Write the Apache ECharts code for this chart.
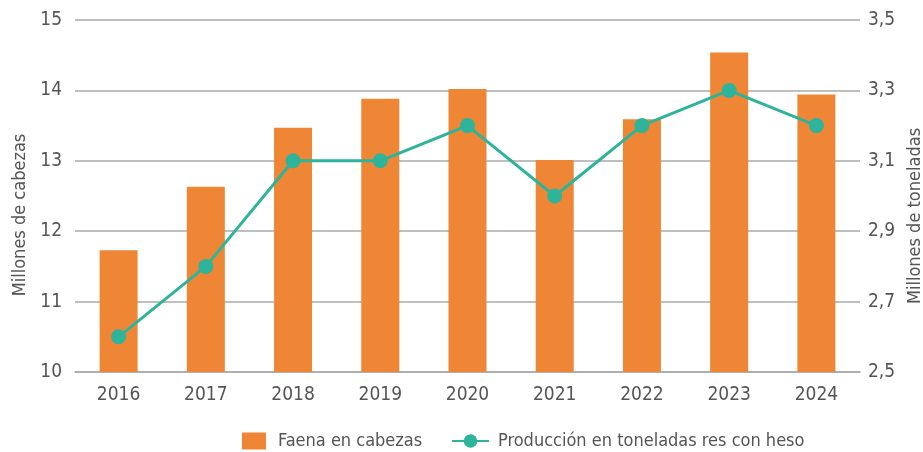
<!DOCTYPE html>
<html>
<head>
<meta charset="utf-8">
<script src="https://cdn.jsdelivr.net/npm/echarts@6/dist/echarts.min.js"></script>
<style>
  html, body { margin: 0; padding: 0; background: #fff; }
  #chart { width: 923px; height: 452px; }
</style>
</head>
<body>
<div id="chart"></div>
<script>
var years = ['2016', '2017', '2018', '2019', '2020', '2021', '2022', '2023', '2024'];
// millones de cabezas
var faena = [11.73, 12.63, 13.47, 13.88, 14.02, 13.01, 13.59, 14.54, 13.94];
// millones de toneladas res con hueso
var produccion = [2.6, 2.8, 3.1, 3.1, 3.2, 3.0, 3.2, 3.3, 3.2];

var FONT = '"DejaVu Sans Condensed", "Liberation Sans Narrow", "Roboto Condensed", sans-serif';
var TXT = '#555';

var chart = echarts.init(document.getElementById('chart'));

chart.setOption({
    animation: false,
    textStyle: { fontFamily: FONT },
    grid: { left: 75, right: 63, top: 20, bottom: 80, outerBoundsMode: 'none', containLabel: false },
    legend: [
        {
            data: [{ name: 'Faena en cabezas', icon: 'rect' }],
            left: 242, top: 432, padding: 0,
            itemWidth: 24, itemHeight: 17,
            textStyle: { fontFamily: FONT, fontSize: 18, color: TXT, padding: [0, 0, 0, 7] }
        },
        {
            data: ['Producción en toneladas res con heso'],
            left: 451, top: 432, padding: 0,
            itemWidth: 37, itemHeight: 17,
            textStyle: { fontFamily: FONT, fontSize: 18, color: TXT, padding: [0, 0, 0, 4] }
        }
    ],
    xAxis: {
        type: 'category',
        data: years,
        axisLine: { lineStyle: { color: '#aaa', width: 1.5 } },
        axisTick: { show: false },
        axisLabel: { color: TXT, fontSize: 19, margin: 14 }
    },
    yAxis: [
        {
            type: 'value',
            min: 10, max: 15, interval: 1,
            name: 'Millones de cabezas',
            nameLocation: 'middle',
            nameGap: 46,
            nameTextStyle: { color: TXT, fontSize: 18, padding: [0, 38, 0, 0] },
            axisLabel: { color: TXT, fontSize: 19, margin: 13 },
            splitLine: { lineStyle: { color: '#aaa', width: 1.5 } }
        },
        {
            type: 'value',
            min: 2.5, max: 3.5, interval: 0.2,
            name: 'Millones de toneladas',
            nameLocation: 'middle',
            nameGap: 45,
            nameTextStyle: { color: TXT, fontSize: 18, padding: [0, 40, 0, 0] },
            axisLabel: {
                color: TXT, fontSize: 19, margin: 8,
                formatter: function (v) { return v.toFixed(1).replace('.', ','); }
            },
            splitLine: { show: false }
        }
    ],
    series: [
        {
            name: 'Faena en cabezas',
            type: 'bar',
            data: faena,
            barWidth: 38,
            itemStyle: { color: '#EF8636' }
        },
        {
            name: 'Producción en toneladas res con heso',
            type: 'line',
            yAxisIndex: 1,
            data: produccion,
            symbol: 'circle',
            symbolSize: 15,
            lineStyle: { color: '#2DB49A', width: 3 },
            itemStyle: { color: '#2DB49A' }
        }
    ]
});
</script>
</body>
</html>
